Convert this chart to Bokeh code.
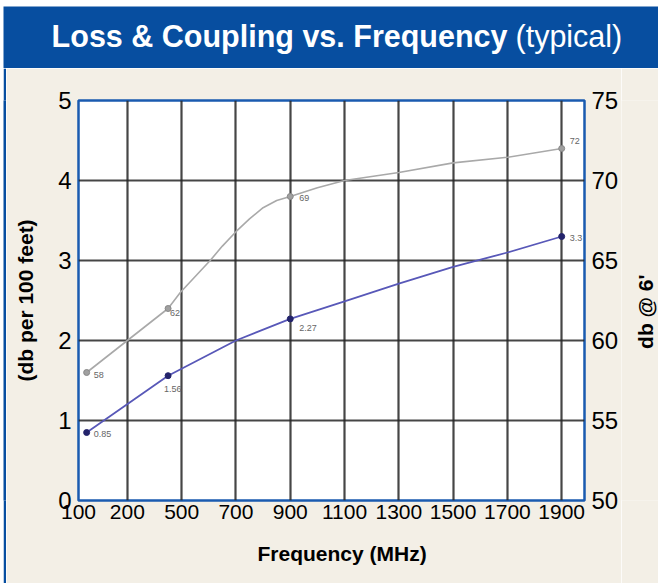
import math
from bokeh.plotting import figure
from bokeh.models import (ColumnDataSource, Range1d, LinearAxis, FixedTicker, Label,
                          Spacer, Title)
from bokeh.layouts import column, row
from bokeh.embed import file_html
from bokeh.resources import INLINE
from bokeh.core.properties import value

# ---------------- data ----------------
freq_mhz = [150, 450, 900, 1900]
loss_db_per_100ft = [0.85, 1.56, 2.27, 3.3]
coupling_db_at_6ft = [58, 62, 69, 72]
loss_labels = ["0.85", "1.56", "2.27", "3.3"]
coupling_labels = ["58", "62", "69", "72"]

# drawn line paths
loss_curve_freq = [150, 450, 700, 900, 1100, 1300, 1500, 1700, 1900]
loss_curve_db = [0.85, 1.56, 2.0, 2.27, 2.49, 2.71, 2.92, 3.10, 3.3]
coupling_curve_freq = [150, 450, 495, 550, 605, 650, 700, 750, 800, 850, 900,
                       1000, 1100, 1300, 1500, 1700, 1900]
coupling_curve_db = [58, 62, 63.0, 64.0, 65.0, 65.9, 66.8, 67.6, 68.3, 68.75, 69,
                     69.55, 70.0, 70.5, 71.1, 71.45, 72]

x_tick_values = [120, 300, 500, 700, 900, 1100, 1300, 1500, 1700, 1900]
x_tick_labels = ["100", "200", "500", "700", "900", "1100", "1300", "1500", "1700", "1900"]
left_ticks = [0, 1, 2, 3, 4, 5]
right_ticks = [50, 55, 60, 65, 70, 75]

title_main = "Loss & Coupling vs. Frequency"
title_sub = "(typical)"
x_title = "Frequency (MHz)"
left_title = "(db per 100 feet)"
right_title = "db @ 6'"

# ---------------- styles ----------------
HEADER_BLUE = "#074ea0"
FRAME_BLUE = "#1a5bb0"
BEIGE = "#f3efe6"
FONT = "Liberation Sans"
BODY_H = 515
TOP_B, BOT_B = 32, 83

# ---------------- header ----------------
hdr = figure(width=658, height=68, x_range=Range1d(0, 655), y_range=Range1d(0, 62),
             x_axis_type=None, y_axis_type=None, output_backend="svg",
             toolbar_location=None, min_border_left=3, min_border_top=6,
             min_border_right=0, min_border_bottom=0,
             background_fill_color=HEADER_BLUE, border_fill_color="white",
             outline_line_color=None)
hdr.add_layout(Label(x=504, y=33, text=title_main, text_align="right",
                     text_baseline="alphabetic", text_font=FONT,
                     text_font_style="bold", text_font_size="30.5px",
                     text_color="white"))
hdr.add_layout(Label(x=512, y=33, text=title_sub, text_align="left",
                     text_baseline="alphabetic", text_font=FONT,
                     text_font_style="normal", text_font_size="30.5px",
                     text_color="white"))

# ---------------- left border strip ----------------
strip = figure(width=3, height=BODY_H, x_axis_type=None, y_axis_type=None,
               output_backend="svg", toolbar_location=None, min_border=0,
               background_fill_color=HEADER_BLUE, border_fill_color=HEADER_BLUE,
               outline_line_color=None)

# ---------------- main chart ----------------
p = figure(width=615, height=BODY_H, x_range=Range1d(120, 1984), y_range=Range1d(0, 5),
           output_backend="svg", toolbar_location=None,
           min_border_left=72, min_border_right=35, min_border_top=TOP_B,
           min_border_bottom=BOT_B,
           background_fill_color="white", border_fill_color=BEIGE,
           outline_line_color=FRAME_BLUE, outline_line_width=2.5)
p.extra_y_ranges = {"right": Range1d(50, 75)}

right_axis = LinearAxis(y_range_name="right", ticker=FixedTicker(ticks=right_ticks))
p.add_layout(right_axis, "right")

p.xaxis.ticker = FixedTicker(ticks=x_tick_values)
p.xaxis.major_label_overrides = {v: t for v, t in zip(x_tick_values, x_tick_labels)}
p.yaxis[0].ticker = FixedTicker(ticks=left_ticks)
p.yaxis[0].axis_label = left_title

for ax in p.xaxis + p.yaxis:
    ax.axis_line_color = None
    ax.major_tick_line_color = None
    ax.minor_tick_line_color = None
    ax.major_tick_out = 0
    ax.major_tick_in = 0
    ax.major_label_text_font = FONT
    ax.major_label_text_color = "black"
    ax.axis_label_text_font = FONT
    ax.axis_label_text_font_style = "bold"
    ax.axis_label_text_font_size = "21px"
    ax.axis_label_text_color = "black"

p.xaxis.major_label_text_font_size = "21px"
p.xaxis.major_label_standoff = 4
p.yaxis[0].major_label_text_font_size = "24px"
p.yaxis[0].major_label_standoff = 7
p.yaxis[0].axis_label_standoff = 18
right_axis.major_label_text_font_size = "24px"
right_axis.major_label_standoff = 7

# bottom axis title, a little right of the frame centre as in the reference
p.add_layout(Title(text=x_title, align="left", offset=179, standoff=36,
                   text_font=FONT, text_font_style="bold", text_font_size="21px",
                   text_color="black"), "below")

p.xgrid.ticker = FixedTicker(ticks=x_tick_values[1:])
p.ygrid.ticker = FixedTicker(ticks=left_ticks[1:-1])
for g in (p.xgrid[0], p.ygrid[0]):
    g.grid_line_color = "#262626"
    g.grid_line_width = 2.2
    g.grid_line_alpha = 0.85

# lines
p.line(coupling_curve_freq, coupling_curve_db, y_range_name="right",
       line_color="#a9a9a9", line_width=1.6)
p.line(loss_curve_freq, loss_curve_db, line_color="#5858b8", line_width=1.8)

# markers
p.scatter(freq_mhz, coupling_db_at_6ft, y_range_name="right", marker="circle",
          size=6, fill_color="#a0a0a0", line_color="#888888")
p.scatter(freq_mhz, loss_db_per_100ft, marker="circle", size=6,
          fill_color="#23236b", line_color="#23236b")

# value labels next to markers
coupling_dx = [7, 2, 9, 8]
coupling_dy = [2, 4, 1, -8]
loss_dx = [7, -4, 9, 8]
loss_dy = [1, 13, 9, 1]
csrc = ColumnDataSource(dict(x=freq_mhz, y=coupling_db_at_6ft, t=coupling_labels,
                             dx=coupling_dx, dy=coupling_dy))
lsrc = ColumnDataSource(dict(x=freq_mhz, y=loss_db_per_100ft, t=loss_labels,
                             dx=loss_dx, dy=loss_dy))
p.text(x="x", y="y", text="t", x_offset="dx", y_offset="dy", source=csrc,
       y_range_name="right", text_font=value(FONT), text_font_size="9px",
       text_color="#666666", text_baseline="middle", text_align="left")
p.text(x="x", y="y", text="t", x_offset="dx", y_offset="dy", source=lsrc,
       text_font=value(FONT), text_font_size="9px",
       text_color="#666666", text_baseline="middle", text_align="left")

# ---------------- right axis title panel ----------------
rt = figure(width=37, height=BODY_H, x_range=Range1d(0, 37), y_range=Range1d(0, 5),
            x_axis_type=None, y_axis_type=None, output_backend="svg",
            toolbar_location=None, min_border_left=0, min_border_right=0,
            min_border_top=TOP_B, min_border_bottom=BOT_B,
            background_fill_color=BEIGE, border_fill_color=BEIGE,
            outline_line_color=None)
rt.add_layout(Label(x=24, y=2.36, text=right_title, angle=math.pi / 2,
                    text_align="center", text_baseline="middle", text_font=FONT,
                    text_font_style="bold", text_font_size="21px", text_color="black"))

layout = column(hdr, row(Spacer(width=3, height=BODY_H), strip, p, rt, spacing=0),
                spacing=0)

with open("out.html", "w") as f:
    f.write(file_html(layout, INLINE))
